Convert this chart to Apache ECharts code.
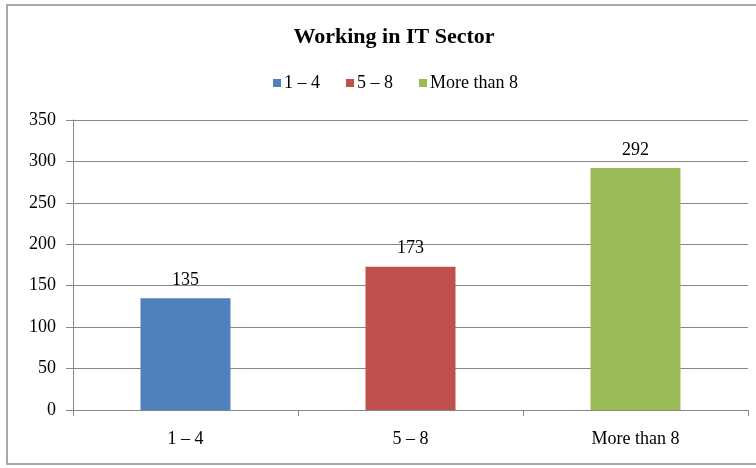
<!DOCTYPE html>
<html>
<head>
<meta charset="utf-8">
<script src="https://cdn.jsdelivr.net/npm/echarts@6/dist/echarts.min.js"></script>
<style>
  html, body { margin: 0; padding: 0; background: #fff; }
  #chart { width: 756px; height: 468px; }
</style>
</head>
<body>
<div id="chart"></div>
<script>
var categories = ['1 – 4', '5 – 8', 'More than 8'];
var values = [135, 173, 292];
var colors = ['#4F81BD', '#C0504D', '#9BBB59'];
var yTicks = [0, 50, 100, 150, 200, 250, 300, 350];

var myChart = echarts.init(document.getElementById('chart'));

// one series per category so the legend shows each colour
var series = categories.map(function (name, i) {
    var data = categories.map(function (c, j) { return j === i ? values[i] : '-'; });
    return {
        name: name,
        type: 'bar',
        stack: 'all',
        barWidth: '40%',
        data: data,
        itemStyle: { color: colors[i] },
        label: {
            show: true,
            position: 'top',
            distance: 9,
            color: '#000',
            fontFamily: 'Liberation Serif',
            fontSize: 18
        }
    };
});

var option = {
    animation: false,
    backgroundColor: '#fff',
    title: {
        text: 'Working in IT Sector',
        left: 389,
        textAlign: 'center',
        top: 21,
        textStyle: {
            fontFamily: 'Liberation Serif',
            fontWeight: 'bold',
            fontSize: 22,
            color: '#000'
        }
    },
    legend: {
        top: 69,
        left: 268,
        itemWidth: 8,
        itemHeight: 8,
        itemGap: 26,
        icon: 'rect',
        textStyle: {
            fontFamily: 'Liberation Serif',
            fontSize: 18,
            color: '#000',
            padding: [0, 0, 0, -2]
        },
        data: categories
    },
    grid: {
        left: 73,
        right: 8,
        top: 120,
        bottom: 58
    },
    xAxis: {
        type: 'category',
        data: categories,
        axisLine: { lineStyle: { color: '#868686' } },
        axisTick: { show: true, length: 6, lineStyle: { color: '#868686' } },
        axisLabel: {
            fontFamily: 'Liberation Serif',
            fontSize: 18,
            color: '#000',
            margin: 20
        }
    },
    yAxis: {
        type: 'value',
        min: yTicks[0],
        max: yTicks[yTicks.length - 1],
        interval: 50,
        axisLine: { show: true, lineStyle: { color: '#868686' } },
        axisTick: { show: true, length: 7, lineStyle: { color: '#868686' } },
        splitLine: { lineStyle: { color: '#868686' } },
        axisLabel: {
            fontFamily: 'Liberation Serif',
            fontSize: 18,
            color: '#000',
            margin: 17
        }
    },
    graphic: [{
        type: 'rect',
        shape: { x: 7, y: 5, width: 760, height: 459 },
        style: { fill: 'none', stroke: '#8c8c8c', lineWidth: 1.5 },
        silent: true
    }],
    series: series
};

myChart.setOption(option);
</script>
</body>
</html>
